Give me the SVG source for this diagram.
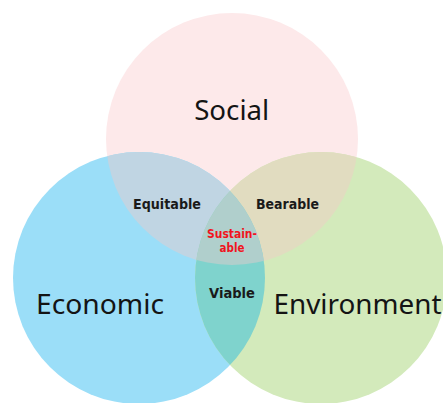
<svg xmlns="http://www.w3.org/2000/svg" width="443" height="403" viewBox="0 0 443 403">
  <defs>
    <clipPath id="clipS"><circle cx="232" cy="139" r="126"/></clipPath>
    <clipPath id="clipE"><circle cx="139" cy="278" r="126"/></clipPath>
    <clipPath id="clipV"><circle cx="321" cy="278" r="126"/></clipPath>
  </defs>
  <style>
    .big { font-family: "Noto Sans", "Open Sans", sans-serif; font-size: 28px; fill: #141414; text-anchor: middle; }
    .mid { font-family: "DejaVu Sans", Verdana, sans-serif; font-weight: bold; font-size: 13.7px; fill: #1a1a1a; text-anchor: middle; }
    .red { font-family: "DejaVu Sans", Verdana, sans-serif; font-weight: bold; font-size: 12px; fill: #f0141e; text-anchor: middle; }
  </style>
  <rect width="443" height="403" fill="#ffffff"/>
  <g id="social">
    <circle cx="232" cy="139" r="126" fill="#fde9ea"/>
  </g>
  <g id="economic">
    <circle cx="139" cy="278" r="126" fill="#9bdef8"/>
  </g>
  <g id="environment">
    <circle cx="321" cy="278" r="126" fill="#d3eabb"/>
  </g>
  <g id="equitable-region">
    <circle cx="139" cy="278" r="126" fill="#c0d5e3" clip-path="url(#clipS)"/>
  </g>
  <g id="bearable-region">
    <circle cx="321" cy="278" r="126" fill="#e1dcc0" clip-path="url(#clipS)"/>
  </g>
  <g id="viable-region">
    <circle cx="321" cy="278" r="126" fill="#7fd3cd" clip-path="url(#clipE)"/>
  </g>
  <g id="sustainable-region" clip-path="url(#clipS)">
    <g clip-path="url(#clipE)">
      <circle cx="321" cy="278" r="126" fill="#b0cfcc"/>
    </g>
  </g>
  <g id="connectors"></g>
  <g id="labels">
    <text class="big" x="231.7" y="119.5" textLength="75" lengthAdjust="spacingAndGlyphs">Social</text>
    <text class="big" x="100" y="314" textLength="128" lengthAdjust="spacingAndGlyphs">Economic</text>
    <text class="big" x="357.5" y="314" textLength="168" lengthAdjust="spacingAndGlyphs">Environment</text>
    <text class="mid" x="167" y="208.5" textLength="68" lengthAdjust="spacingAndGlyphs">Equitable</text>
    <text class="mid" x="287.5" y="208.5" textLength="63" lengthAdjust="spacingAndGlyphs">Bearable</text>
    <text class="mid" x="232" y="298" textLength="46" lengthAdjust="spacingAndGlyphs">Viable</text>
    <text class="red" x="232" y="238" textLength="50" lengthAdjust="spacingAndGlyphs">Sustain-</text>
    <text class="red" x="232" y="251.5" textLength="25" lengthAdjust="spacingAndGlyphs">able</text>
  </g>
</svg>
